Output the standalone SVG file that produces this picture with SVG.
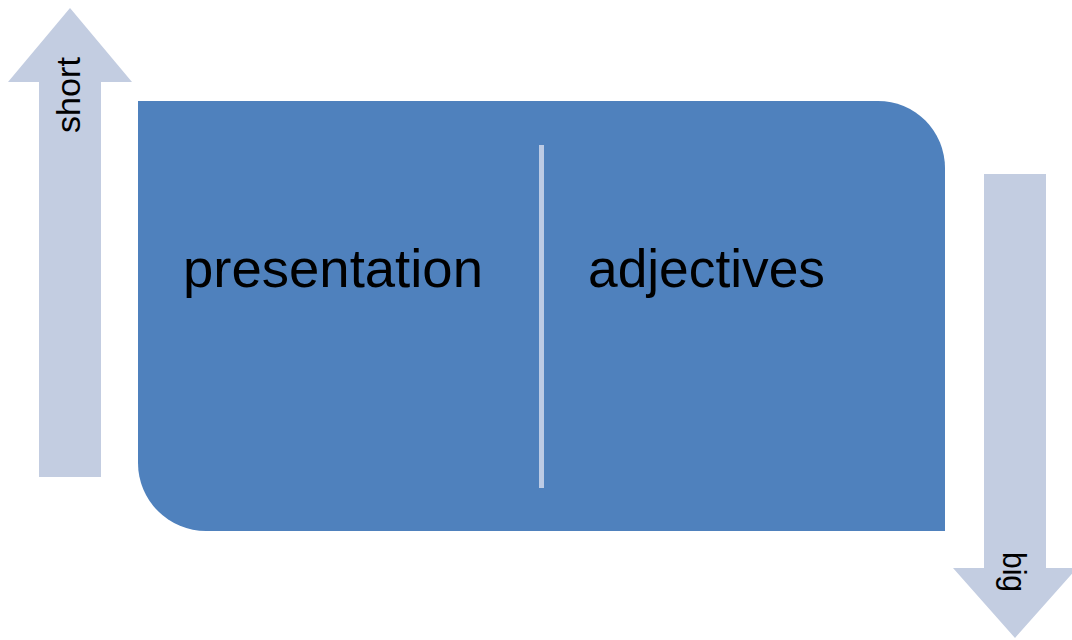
<svg xmlns="http://www.w3.org/2000/svg" width="1072" height="640" viewBox="0 0 1072 640">
<style>
.arrow{fill:#C3CDE1}
.lbl{font-family:"Liberation Sans",Arial,sans-serif;fill:#000}
</style>
<rect width="1072" height="640" fill="#fff"/>
<g id="arrow-short">
<polygon class="arrow" points="39,477 39,82 8,82 70,8 132,82 101,82 101,477"/>
<text class="lbl" font-size="33" transform="translate(80,133) rotate(-90)" textLength="76" lengthAdjust="spacingAndGlyphs">short</text>
</g>
<g id="arrow-big">
<polygon class="arrow" points="984,174 1046,174 1046,568 1077,568 1015,638 953,568 984,568"/>
<text class="lbl" font-size="33" transform="translate(1003,552) rotate(90)" textLength="40" lengthAdjust="spacingAndGlyphs">big</text>
</g>
<g id="main">
<path d="M138,101 H878 A67,67 0 0 1 945,168 V531 H206 A68,68 0 0 1 138,463 Z" fill="#4F81BD"/>
<rect x="539" y="145" width="5" height="343" fill="#BCCBE5"/>
<text class="lbl" font-size="53" x="183" y="287" textLength="300" lengthAdjust="spacingAndGlyphs">presentation</text>
<text class="lbl" font-size="53" x="588" y="287" textLength="237" lengthAdjust="spacingAndGlyphs">adjectives</text>
</g>
<g id="connectors"></g>
</svg>
